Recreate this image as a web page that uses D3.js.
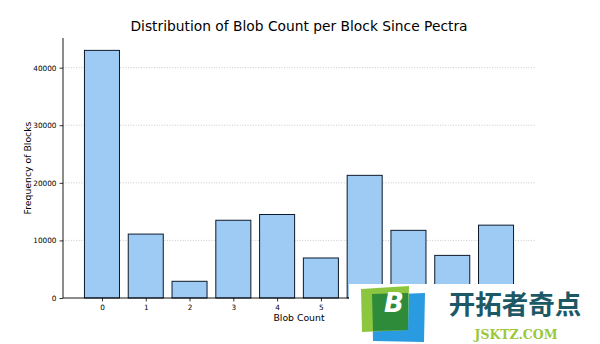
<!DOCTYPE html>
<html><head><meta charset="utf-8">
<script src="https://cdn.jsdelivr.net/npm/d3@7"></script>
<style>body{margin:0;background:#fff}svg{display:block}</style>
</head><body>
<script>
const categories = ["0","1","2","3","4","5","6","7","8","9"];
const frequencies = [43000, 11100, 2900, 13500, 14500, 6950, 21300, 11750, 7400, 12650];
const yTicks = [0, 10000, 20000, 30000, 40000];
const titleText = "Distribution of Blob Count per Block Since Pectra";
const xLabel = "Blob Count";
const yLabel = "Frequency of Blocks";

const W = 600, H = 344;
const m = {left: 63, right: 65, top: 38, bottom: 46};
const svg = d3.select("body").append("svg").attr("width", W).attr("height", H)
  .style("font-family", "'DejaVu Sans', sans-serif");

const x = d3.scaleLinear().domain([-0.89, 9.89]).range([m.left, W - m.right]);
const y = d3.scaleLinear().domain([0, 45150]).range([H - m.bottom, m.top]);
const bw = x(0.4) - x(-0.4);

// grid
svg.append("g").selectAll("line").data(yTicks.filter(d => d > 0)).join("line")
  .attr("x1", m.left).attr("x2", W - m.right)
  .attr("y1", d => y(d)).attr("y2", d => y(d))
  .attr("stroke", "#bdbdbd").attr("stroke-width", 0.8).attr("stroke-dasharray", "1,1.6");

// bars
svg.append("g").selectAll("rect").data(frequencies).join("rect")
  .attr("x", (d, i) => x(+categories[i]) - bw / 2)
  .attr("width", bw)
  .attr("y", d => y(d))
  .attr("height", d => y(0) - y(d))
  .attr("fill", "#9dcbf3").attr("stroke", "#0e1a2b").attr("stroke-width", 1);

// axes
const xAxis = d3.axisBottom(x).tickValues(categories.map(Number)).tickFormat((d, i) => categories[i]).tickSize(3.5).tickPadding(3);
const gx = svg.append("g").attr("transform", `translate(0,${H - m.bottom})`).call(xAxis);
const yAxis = d3.axisLeft(y).tickValues(yTicks).tickFormat(d3.format("d")).tickSize(3.5).tickPadding(3);
const gy = svg.append("g").attr("transform", `translate(${m.left},0)`).call(yAxis);
[gx, gy].forEach(g => {
  g.selectAll("text").attr("font-size", 7.3).attr("fill", "#000").attr("font-family", "'DejaVu Sans', sans-serif");
  g.selectAll("line").attr("stroke", "#000").attr("stroke-width", 0.8);
  g.select(".domain").remove();
});
svg.append("line").attr("x1", m.left).attr("x2", m.left).attr("y1", m.top).attr("y2", H - m.bottom).attr("stroke", "#000").attr("stroke-width", 0.9);
svg.append("line").attr("x1", m.left).attr("x2", W - m.right).attr("y1", H - m.bottom).attr("y2", H - m.bottom).attr("stroke", "#000").attr("stroke-width", 0.9);

// labels
const cx = (m.left + W - m.right) / 2;
svg.append("text").attr("x", cx).attr("y", 35).attr("text-anchor", "middle")
  .attr("font-size", 13.8).attr("fill", "#000").text(titleText).attr("dy", "-0.3em");
svg.append("text").attr("x", cx).attr("y", 321).attr("text-anchor", "middle")
  .attr("font-size", 9.3).attr("fill", "#000").text(xLabel);
svg.append("text").attr("transform", `translate(31,${(m.top + H - m.bottom) / 2}) rotate(-90)`)
  .attr("text-anchor", "middle").attr("font-size", 9.3).attr("fill", "#000").text(yLabel);

// watermark overlay
const wm = svg.append("g");
wm.append("rect").attr("x", 349).attr("y", 284).attr("width", 251).attr("height", 60).attr("fill", "#fff");
wm.append("path").attr("d", "M372,295 L425,293 L424,342 L373,341 Z").attr("fill", "#2a9be0");
wm.append("path").attr("d", "M361,289 L409,286 L408,330 L362,332 Z").attr("fill", "#8cc63f");
wm.append("path").attr("d", "M372,294 L408,293 L408,330 L373,331 Z").attr("fill", "#2e8b3a");
wm.append("text").attr("x", 394).attr("y", 312).attr("text-anchor", "middle")
  .attr("font-size", 26).attr("font-weight", "bold").attr("font-style", "italic")
  .attr("font-family", "'DejaVu Sans', sans-serif").attr("fill", "#fff").text("B");
wm.append("text").attr("x", 515).attr("y", 314).attr("text-anchor", "middle")
  .attr("font-size", 26.5).attr("font-weight", "bold")
  .attr("font-family", "'Noto Sans CJK SC', sans-serif").attr("fill", "#1d5866").text("开拓者奇点");
wm.append("text").attr("x", 516).attr("y", 338.5).attr("text-anchor", "middle")
  .attr("font-size", 12.5).attr("font-weight", "bold")
  .attr("font-family", "'DejaVu Serif', serif").attr("fill", "#9bc83a").text("JSKTZ.COM");
</script>
</body></html>
